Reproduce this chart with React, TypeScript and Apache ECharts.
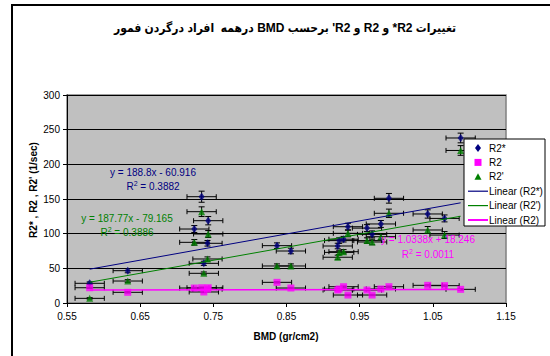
import React, { useEffect, useRef } from "react";
import * as echarts from "echarts";

// ---- data ----
const bmd = [0.581, 0.633, 0.724, 0.734, 0.737, 0.743, 0.742, 0.837, 0.856, 0.92, 0.922, 0.928, 0.934, 0.96, 0.967, 0.979, 0.99, 1.043, 1.066, 1.088];
const r2Star = [28.4, 46.6, 106.7, 153.3, 57.2, 118.7, 86.1, 82.7, 75, 82.2, 90, 92, 110, 108, 99, 114, 151, 128.4, 122, 238];
const r2 = [22, 15.4, 21.6, 22, 15.9, 22, 20, 29.8, 21.6, 18.7, 20.2, 23.5, 11.5, 18.7, 11.5, 20.2, 23.5, 25.5, 25, 19.7];
const r2Prime = [6.7, 31.7, 87.5, 131.7, 42.8, 99.5, 63.5, 53.4, 53.4, 66, 73, 74, 100.5, 90, 88, 95.6, 129.4, 105.3, 98, 220];
const errStar = [2, 3, 5, 8, 3, 6, 4, 4, 4, 4, 4, 4, 5, 5, 5, 5, 7, 6, 5, 7];
const errPrime = [1, 2, 4, 7, 2, 5, 3, 3, 3, 3, 3, 3, 5, 4, 4, 4, 6, 5, 5, 7];
const errR2 = [1, 1, 1, 1, 1, 1, 1, 1, 1, 1, 1, 1, 1, 1, 1, 1, 1, 1, 1, 1];
const xErr = [0.02];
// displayed trend-line equations: [slope, intercept, R^2]
const trendStar = [188.8, -60.916, 0.3882];
const trendPrime = [187.77, -79.165, 0.3886];
const trendR2 = [1.0338, 18.246, 0.0011];
const xAxisTicks = [0.55, 0.65, 0.75, 0.85, 0.95, 1.05, 1.15];
const yAxisRange = [0, 300, 50];

const seriesNames = ["R2*", "R2", "R2'", "Linear (R2*)", "Linear (R2')", "Linear (R2)"];
const titleText = "تغییرات R2* و R2 و R2' برحسب BMD درهمه  افراد درگردن فمور";
const yAxisTitle = "R2* , R2 , R2' (1/sec)";
const xAxisTitle = "BMD (gr/cm2)";

const FONT = "'Liberation Sans', Arial, 'DejaVu Sans', sans-serif";
const TITLE_FONT = "'Liberation Sans', Arial, 'DejaVu Sans Condensed', 'DejaVu Sans', sans-serif";
const NAVY = "#000080";
const MAGENTA = "#FF00FF";
const GREEN = "#008000";

export default function App() {
  const ref = useRef<HTMLDivElement>(null);

  useEffect(() => {
    const chart = echarts.init(ref.current!, null, { renderer: "svg" });
    const x0 = xAxisTicks[0];
    const step = +(xAxisTicks[1] - xAxisTicks[0]).toFixed(4);
    const xs = bmd.map((v) => +(v - x0).toFixed(4));
    const pts = (ys: number[]) => xs.map((x, i) => [x, ys[i]]);
    const errData = (ys: number[], es: number[]) => xs.map((x, i) => [x, ys[i], es[i]]);
    const xMin = Math.min(...bmd);
    const xMax = Math.max(...bmd);
    const trend = (t: number[]) => [
      [xMin - x0, t[0] * xMin + t[1]],
      [xMax - x0, t[0] * xMax + t[1]],
    ];

    const renderErr = (params: any, api: any) => {
      const x = api.value(0);
      const y = api.value(1);
      const e = api.value(2);
      const l = api.coord([x - xErr[0], y]);
      const r = api.coord([x + xErr[0], y]);
      const t = api.coord([x, y + e]);
      const b = api.coord([x, y - e]);
      const st = { stroke: "#000", lineWidth: 1 };
      const hc = 2.5;
      const vc = 3;
      const ln = (x1: number, y1: number, x2: number, y2: number) => ({
        type: "line",
        shape: { x1, y1, x2, y2 },
        style: st,
      });
      return {
        type: "group",
        children: [
          ln(l[0], l[1], r[0], r[1]),
          ln(l[0], l[1] - hc, l[0], l[1] + hc),
          ln(r[0], r[1] - hc, r[0], r[1] + hc),
          ln(t[0], t[1], b[0], b[1]),
          ln(t[0] - vc, t[1], t[0] + vc, t[1]),
          ln(b[0] - vc, b[1], b[0] + vc, b[1]),
        ],
      };
    };

    const errSeries = (ys: number[], es: number[]) => ({
      type: "custom",
      renderItem: renderErr,
      data: errData(ys, es),
      encode: { x: 0, y: 1 },
      z: 2,
      silent: true,
    });

    const eqLabel = (t: number[]) => {
      const sgn = t[1] < 0 ? "-" : "+";
      return `y = ${t[0]}x ${sgn} ${Math.abs(t[1])}`;
    };
    const r2Label = (t: number[]) => `R{s|2} = ${t[2].toFixed(4)}`;
    const txt = (text: string, x: number, y: number, color: string, extra: any = {}) => ({
      type: "text",
      x,
      y,
      z: 10,
      style: {
        text,
        fill: color,
        font: `10px ${FONT}`,
        align: "center",
        verticalAlign: "middle",
        rich: { s: { fontSize: 7, fontFamily: FONT, fill: color, padding: [0, 0, 6, 0] } },
        ...extra,
      },
    });

    // legend drawn with graphic elements
    const LX = 464;
    const LY = 139;
    const rowY = (i: number) => LY + 9 + i * 14.4;
    const symX = 478;
    const legendColors = [NAVY, MAGENTA, GREEN, NAVY, GREEN, MAGENTA];
    const legendEls: any[] = [
      {
        type: "rect",
        shape: { x: LX, y: LY, width: 81, height: 87 },
        style: { fill: "#fff", stroke: "#000", lineWidth: 1 },
        z: 20,
      },
    ];
    seriesNames.forEach((name, i) => {
      const y = rowY(i);
      const c = legendColors[i];
      if (i === 0) {
        legendEls.push({
          type: "polygon",
          shape: { points: [[symX, y - 4], [symX + 3, y], [symX, y + 4], [symX - 3, y]] },
          style: { fill: c },
          z: 21,
        });
      } else if (i === 1) {
        legendEls.push({
          type: "rect",
          shape: { x: symX - 3.5, y: y - 3.5, width: 7, height: 7 },
          style: { fill: c },
          z: 21,
        });
      } else if (i === 2) {
        legendEls.push({
          type: "polygon",
          shape: { points: [[symX, y - 3.5], [symX + 3.5, y + 3], [symX - 3.5, y + 3]] },
          style: { fill: c },
          z: 21,
        });
      } else {
        legendEls.push({
          type: "line",
          shape: { x1: 468, y1: y, x2: 488, y2: y },
          style: { stroke: c, lineWidth: i === 5 ? 2 : 1.2 },
          z: 21,
        });
      }
      legendEls.push({
        type: "text",
        x: 489,
        y,
        z: 21,
        style: {
          text: name,
          font: `10px ${FONT}`,
          fill: "#000",
          align: "left",
          verticalAlign: "middle",
        },
      });
    });

    chart.setOption({
      animation: false,
      backgroundColor: "#fff",
      textStyle: { fontFamily: FONT },
      grid: {
        left: 67,
        right: 44,
        top: 95,
        bottom: 53,
        show: true,
        backgroundColor: "#C0C0C0",
        borderColor: "#808080",
        borderWidth: 1.5,
      },
      xAxis: {
        type: "value",
        min: 0,
        max: +(xAxisTicks[xAxisTicks.length - 1] - x0).toFixed(4),
        interval: step,
        axisLine: { lineStyle: { color: "#000", width: 1 } },
        axisTick: { show: true, length: 4, lineStyle: { color: "#000" } },
        axisLabel: {
          color: "#000",
          fontSize: 10,
          fontFamily: FONT,
          margin: 8,
          formatter: (v: number) => (v + x0).toFixed(2),
        },
        splitLine: { show: false },
      },
      yAxis: {
        type: "value",
        min: yAxisRange[0],
        max: yAxisRange[1],
        interval: yAxisRange[2],
        axisLine: { show: true, lineStyle: { color: "#000", width: 1 } },
        axisTick: { show: true, length: 4, lineStyle: { color: "#000" } },
        axisLabel: { color: "#000", fontSize: 10, fontFamily: FONT, margin: 7 },
        splitLine: { show: true, lineStyle: { color: "#000", width: 1 } },
      },
      graphic: [
        {
          type: "rect",
          shape: { x: 12, y: 5, width: 700, height: 500 },
          style: { fill: "none", stroke: "#000", lineWidth: 2 },
          z: 0,
          silent: true,
        },
        {
          type: "text",
          x: 285,
          y: 28,
          style: {
            text: titleText,
            font: `bold 12px ${TITLE_FONT}`,
            fill: "#000",
            align: "center",
            verticalAlign: "middle",
          },
        },
        {
          type: "text",
          x: 33,
          y: 190,
          rotation: Math.PI / 2,
          style: {
            text: yAxisTitle,
            font: `bold 10px ${FONT}`,
            fill: "#000",
            align: "center",
            verticalAlign: "middle",
          },
        },
        {
          type: "text",
          x: 286,
          y: 336,
          style: {
            text: xAxisTitle,
            font: `bold 10px ${FONT}`,
            fill: "#000",
            align: "center",
            verticalAlign: "middle",
          },
        },
        txt(eqLabel(trendStar), 153, 172, NAVY),
        txt(r2Label(trendStar), 153, 186, NAVY),
        txt(eqLabel(trendPrime), 127, 218, GREEN),
        txt(r2Label(trendPrime), 127, 232, GREEN),
        txt(eqLabel(trendR2), 428, 239, MAGENTA),
        txt(r2Label(trendR2), 428, 254, MAGENTA),
        ...legendEls,
      ],
      series: [
        errSeries(r2Star, errStar),
        errSeries(r2, errR2),
        errSeries(r2Prime, errPrime),
        {
          name: seriesNames[0],
          type: "scatter",
          symbol: "diamond",
          symbolSize: [6, 8],
          itemStyle: { color: NAVY },
          data: pts(r2Star),
          z: 3,
        },
        {
          name: seriesNames[1],
          type: "scatter",
          symbol: "rect",
          symbolSize: 7,
          itemStyle: { color: MAGENTA },
          data: pts(r2),
          z: 3,
        },
        {
          name: seriesNames[2],
          type: "scatter",
          symbol: "triangle",
          symbolSize: 7,
          itemStyle: { color: GREEN },
          data: pts(r2Prime),
          z: 3,
        },
        {
          name: seriesNames[3],
          type: "line",
          symbol: "none",
          data: trend(trendStar),
          lineStyle: { color: NAVY, width: 1 },
          z: 4,
        },
        {
          name: seriesNames[4],
          type: "line",
          symbol: "none",
          data: trend(trendPrime),
          lineStyle: { color: GREEN, width: 1 },
          z: 4,
        },
        {
          name: seriesNames[5],
          type: "line",
          symbol: "none",
          data: trend(trendR2),
          lineStyle: { color: MAGENTA, width: 1.5 },
          z: 4,
        },
      ],
    });

    // make the Persian title lay out right-to-left
    const fixDir = () => {
      const root = ref.current;
      if (!root) return;
      root.querySelectorAll("text").forEach((t) => {
        if ((t.textContent || "").indexOf("برحسب") >= 0) {
          t.setAttribute("direction", "rtl");
          t.setAttribute("unicode-bidi", "embed");
          (t as any).style.direction = "rtl";
          (t as any).style.unicodeBidi = "embed";
        }
      });
    };
    fixDir();
    chart.on("finished", fixDir);
    const tm = setTimeout(fixDir, 0);
    const raf = requestAnimationFrame(fixDir);

    return () => {
      clearTimeout(tm);
      cancelAnimationFrame(raf);
      chart.dispose();
    };
  }, []);

  return (
    <div
      ref={ref}
      style={{ position: "absolute", left: 0, top: 0, width: 550, height: 356 }}
    />
  );
}
